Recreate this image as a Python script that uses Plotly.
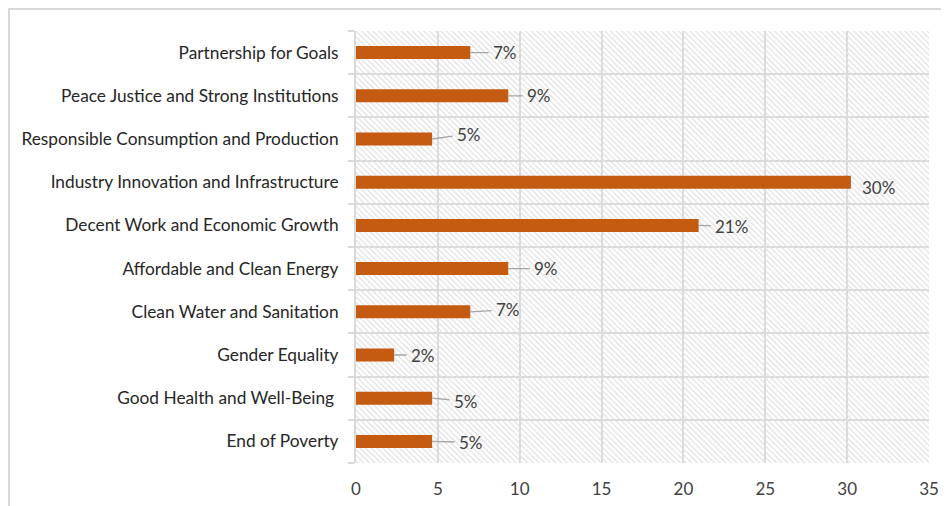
import plotly.graph_objects as go

categories = [
    "End of Poverty",
    "Good Health and Well-Being ",
    "Gender Equality",
    "Clean Water and Sanitation",
    "Affordable and Clean Energy",
    "Decent Work and Economic Growth",
    "Industry Innovation and Infrastructure",
    "Responsible Consumption and Production",
    "Peace Justice and Strong Institutions",
    "Partnership for Goals",
]
values = [4.65, 4.65, 2.33, 6.98, 9.30, 20.93, 30.23, 4.65, 9.30, 6.98]
x_ticks = [0, 5, 10, 15, 20, 25, 30, 35]

# label offsets (px) for the data-label callouts
label_dx = [39, 34, 29, 38, 38, 33, 28, 37, 31, 35]
label_dy = [1, 3, 0, -2, 0, 1, 5, -5, 0, 0]
label_line = [True, True, True, True, True, True, False, True, True, True]

BAR = "#C55A11"
GRID = "#D9D9D9"
TXT = "#404040"
FONT = "Lato"
W, H = 941, 498

fig = go.Figure()

# hatched plot-area background (main subplot, hidden axes)
fig.add_trace(go.Bar(
    x=[1], y=[0.5], orientation="h", width=1,
    marker=dict(color="rgba(0,0,0,0)", line=dict(width=0),
                pattern=dict(shape="\\", fgcolor="#E0E0E0", bgcolor="rgba(0,0,0,0)",
                             size=4, solidity=0.3, fillmode="replace")),
    hoverinfo="skip", showlegend=False,
))

# data bars on overlay axes
fig.add_trace(go.Bar(
    x=values, y=categories, orientation="h",
    xaxis="x2", yaxis="y2",
    marker=dict(color=BAR, line=dict(width=0)),
    showlegend=False,
))

annotations = []
for c, v, dx, dy, ln in zip(categories, values, label_dx, label_dy, label_line):
    annotations.append(dict(
        x=v, y=c, xref="x2", yref="y2",
        text=f"{round(v)}%", showarrow=True,
        arrowhead=0, arrowwidth=1.3,
        arrowcolor="#A6A6A6" if ln else "rgba(0,0,0,0)",
        ax=dx, ay=dy, standoff=0, startstandoff=0, borderpad=4,
        font=dict(family=FONT, size=17, color=TXT),
    ))

fig.update_layout(
    width=W, height=H,
    margin=dict(l=348, r=20, t=23, b=43, autoexpand=False),
    paper_bgcolor="white", plot_bgcolor="white",
    bargap=0.7,
    font=dict(family=FONT, size=17, color=TXT),
    xaxis=dict(range=[0, 1], visible=False, fixedrange=True),
    yaxis=dict(range=[0, 1], visible=False, fixedrange=True),
    xaxis2=dict(overlaying="x", side="bottom", range=[0, 35], tickvals=x_ticks,
                showgrid=True, gridcolor=GRID, gridwidth=2, automargin=False,
                zeroline=False, showline=False, ticks="", ticklabelstandoff=14,
                tickfont=dict(size=17, color=TXT), fixedrange=True),
    yaxis2=dict(overlaying="y", side="left", type="category", categoryorder="array",
                categoryarray=categories, automargin=False,
                tickson="boundaries", showgrid=True, gridcolor=GRID, gridwidth=2,
                ticks="outside", ticklen=6, tickcolor=GRID, tickwidth=2,
                showline=True, linecolor=GRID, linewidth=2, ticklabelstandoff=12,
                tickfont=dict(size=17.3, color="#262626"),
                range=[-0.5, len(categories) - 0.5], fixedrange=True),
    annotations=annotations,
    shapes=[dict(type="rect", xref="paper", yref="paper",
                 x0=(1 - 348) / 573, x1=1.2, y0=-0.3, y1=1 + (23 - 1) / 432,
                 line=dict(color=GRID, width=2), fillcolor="rgba(0,0,0,0)", layer="below")],
)

fig.write_html("out.html")
